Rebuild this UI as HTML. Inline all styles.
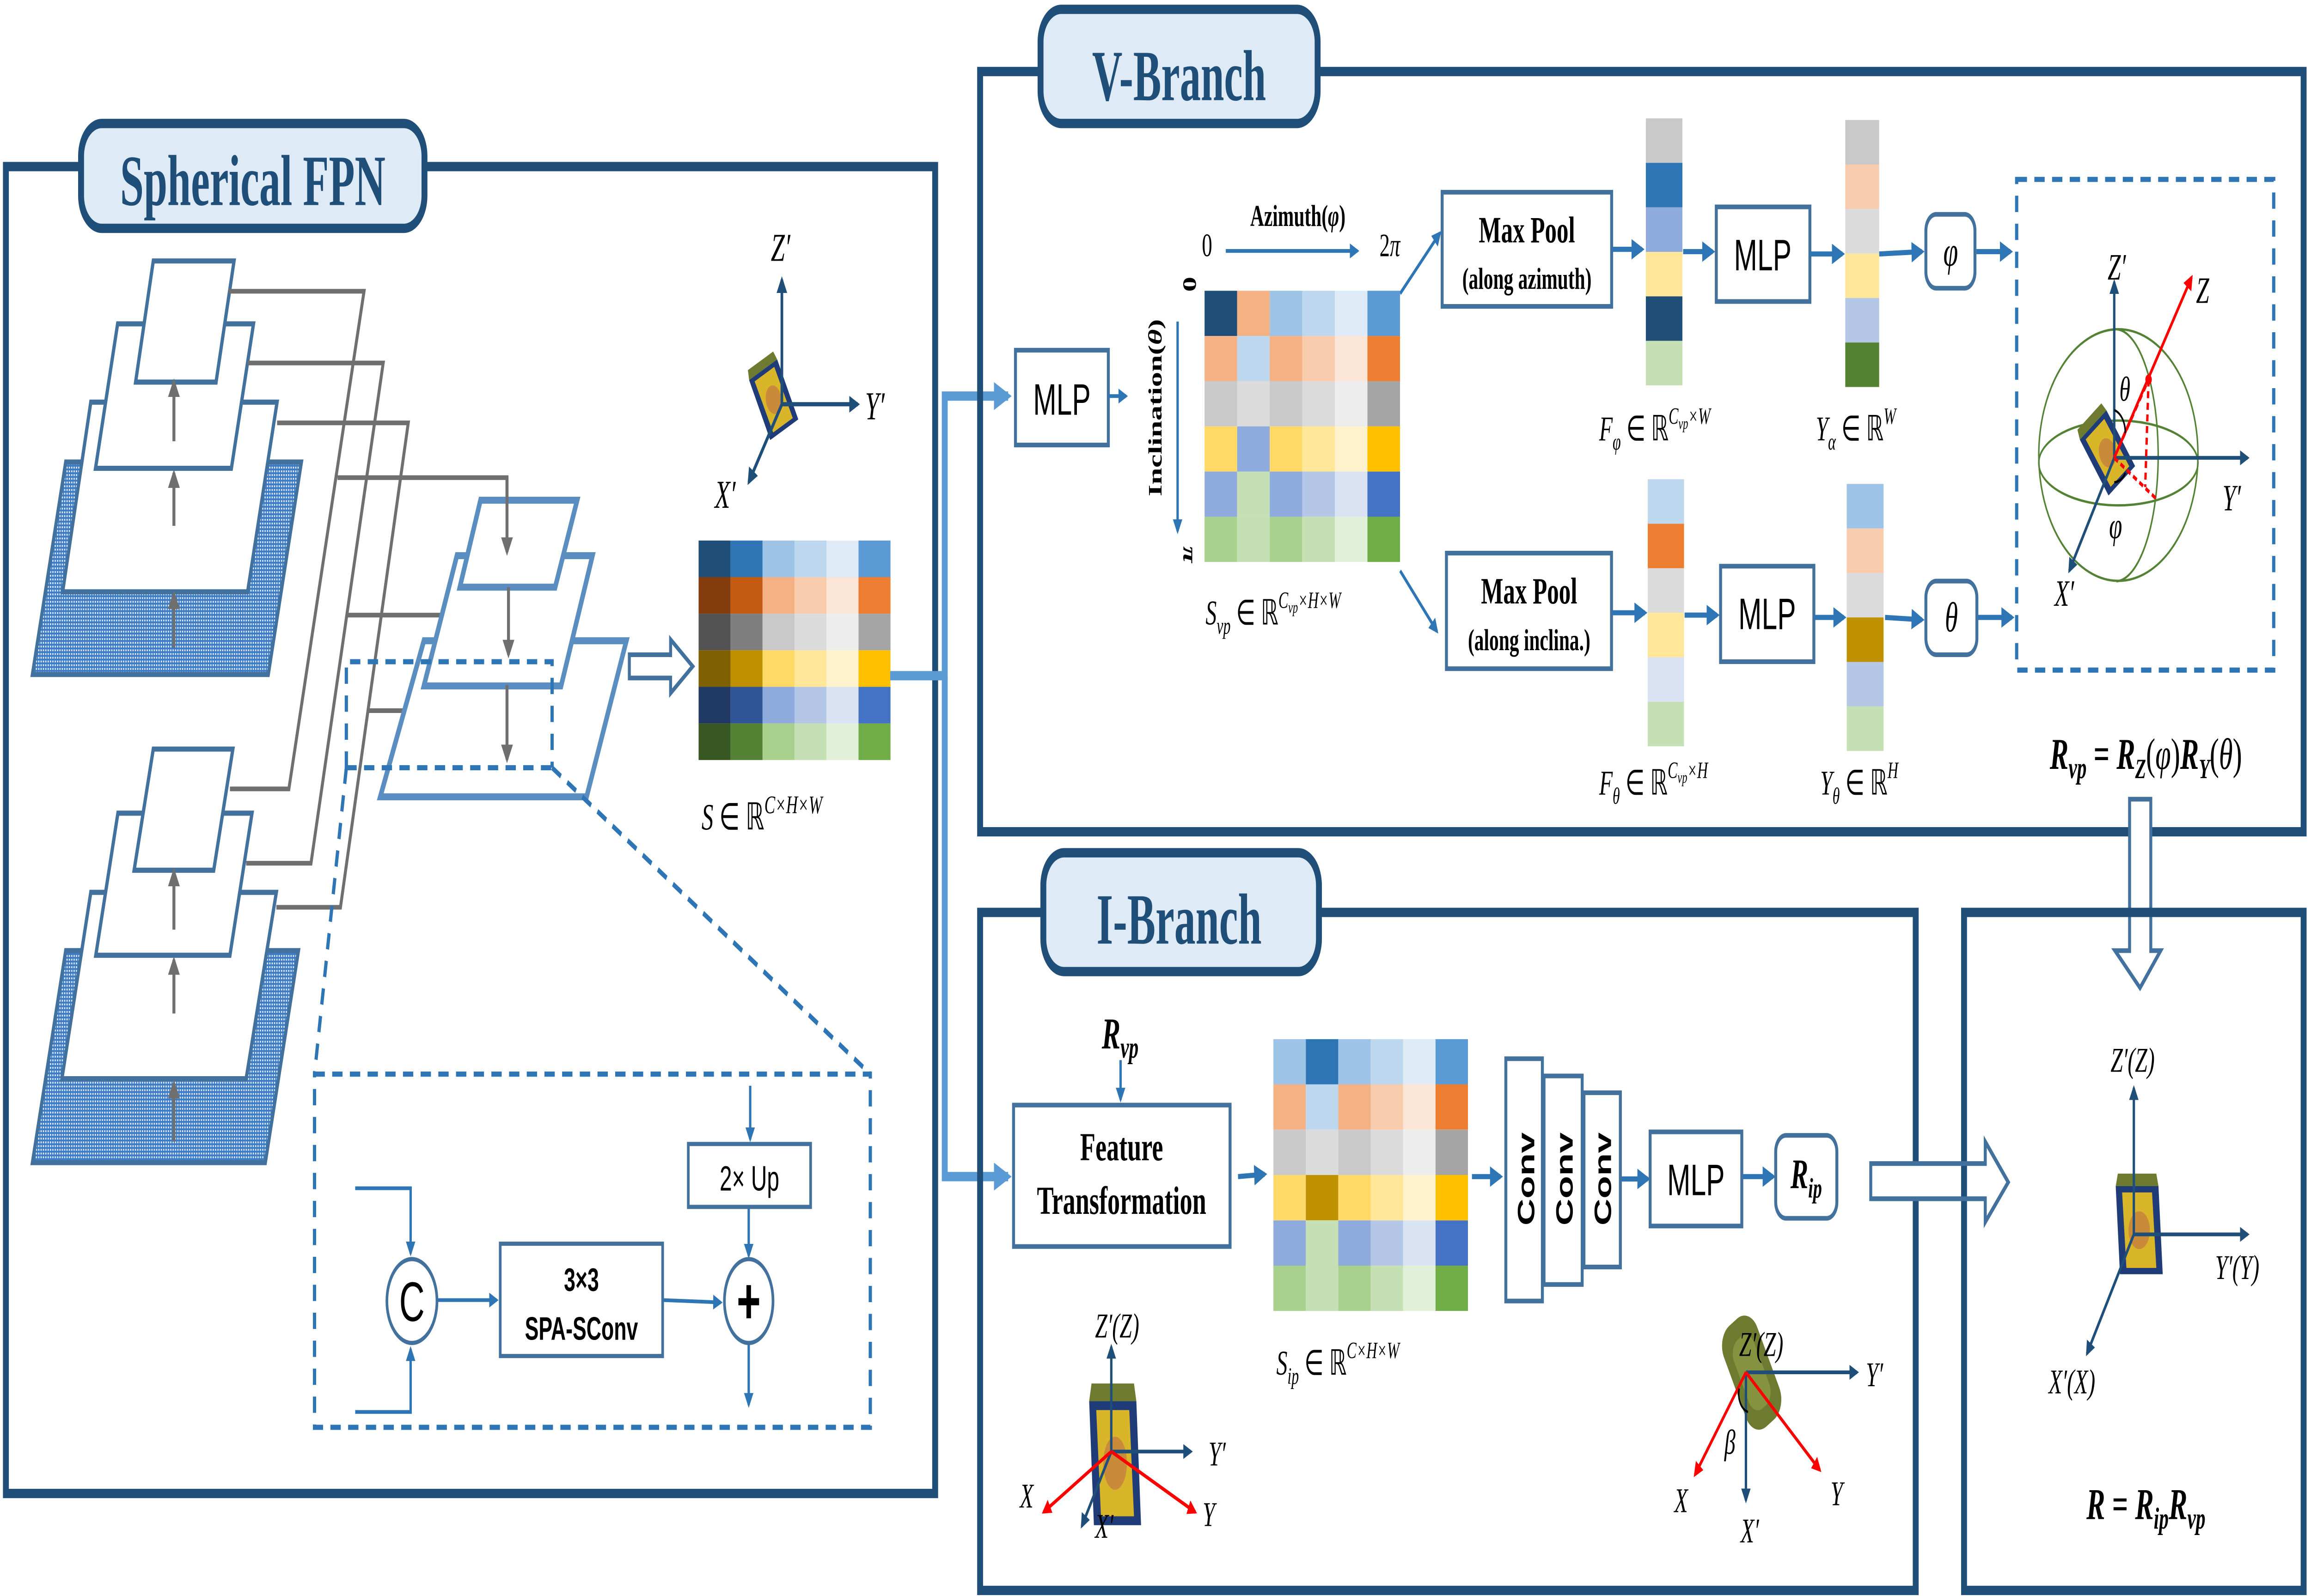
<!DOCTYPE html>
<html><head><meta charset="utf-8"><style>
html,body{margin:0;padding:0;background:#fff;overflow:hidden;width:100%;height:100%;}
svg{display:block;width:100vw;height:100vh;}
text{font-family:"Liberation Serif",serif;}
.sans{font-family:"Liberation Sans",sans-serif;}
.it{font-style:italic;}
</style></head><body>
<svg xmlns="http://www.w3.org/2000/svg" viewBox="0 0 1568 685" preserveAspectRatio="none">
<defs>
<pattern id="hatch" width="1.6" height="1.6" patternUnits="userSpaceOnUse">
<rect width="1.6" height="1.6" fill="#3d7cc4"/><rect x="0.3" y="0.3" width="0.8" height="0.8" fill="#e8f0fa"/>
</pattern>
<marker id="ag" viewBox="0 0 10 10" refX="8" refY="5" markerWidth="4" markerHeight="4" orient="auto"><path d="M0,0 L10,5 L0,10 z" fill="#6f6f6f"/></marker>
<marker id="ab" viewBox="0 0 10 10" refX="8" refY="5" markerWidth="4" markerHeight="4" orient="auto"><path d="M0,0 L10,5 L0,10 z" fill="#2e75b6"/></marker>
<marker id="ad" viewBox="0 0 10 10" refX="8" refY="5" markerWidth="4" markerHeight="4" orient="auto"><path d="M0,0 L10,5 L0,10 z" fill="#1f4e79"/></marker>
<marker id="ar" viewBox="0 0 10 10" refX="8" refY="5" markerWidth="4" markerHeight="4" orient="auto"><path d="M0,0 L10,5 L0,10 z" fill="#ff0000"/></marker>
<marker id="al" viewBox="0 0 10 10" refX="8" refY="5" markerWidth="3" markerHeight="3" orient="auto"><path d="M0,0 L10,5 L0,10 z" fill="#5b9bd5"/></marker>
<g id="can">
<path d="M-10,-14 L10,-14 L12,14 L-8,14 z" fill="#1f3c78"/>
<path d="M-7,-12 L7,-12 L9,12 L-5,12 z" fill="#d9b52a"/>
<ellipse cx="1" cy="0" rx="5" ry="6" fill="#c98a3a"/>
<path d="M-10,-14 L10,-14 L9,-18 L-9,-18 z" fill="#6d7a2f"/>
</g>
</defs>

<rect x="4" y="71.5" width="630.5" height="569.5" fill="none" stroke="#1f4e79" stroke-width="4"/>
<rect x="55" y="53" width="233" height="45" rx="14" fill="#deeaf6" stroke="#1f4e79" stroke-width="4"/>
<text x="171.5" y="88" text-anchor="middle" font-weight="bold" font-size="31" fill="#1f4e79" textLength="180" lengthAdjust="spacingAndGlyphs">Spherical FPN</text>

<g stroke="#41719c" stroke-width="2.2">
<polygon points="44.6,198.3 204.5,198.3 182,289.5 22,289.5" fill="url(#hatch)"/>
<polygon points="61.6,172.6 188,172.6 168,254 42.5,254" fill="#fff"/>
<polygon points="79.8,139 172,139 157,201 64.8,201" fill="#fff"/>
<polygon points="104,112 158.8,112 146.6,164 92,164" fill="#fff"/>
</g>
<g stroke="#41719c" stroke-width="2.2">
<polygon points="44.6,408 202.5,408 180,499 22,499" fill="url(#hatch)"/>
<polygon points="61.6,383 187.5,383 167,463 42,463" fill="#fff"/>
<polygon points="80,349 171,349 156,410 65,410" fill="#fff"/>
<polygon points="104,321.5 158,321.5 145,373.5 91,373.5" fill="#fff"/>
</g>
<g stroke="#6f6f6f" stroke-width="2" fill="none">
<line x1="118" y1="278" x2="118" y2="255" marker-end="url(#ag)"/>
<line x1="118" y1="225.7" x2="118" y2="203" marker-end="url(#ag)"/>
<line x1="118" y1="189.4" x2="118" y2="164" marker-end="url(#ag)"/>
<line x1="118" y1="490" x2="118" y2="465" marker-end="url(#ag)"/>
<line x1="118" y1="435" x2="118" y2="412" marker-end="url(#ag)"/>
<line x1="118" y1="399" x2="118" y2="374" marker-end="url(#ag)"/>
<polyline points="155,125 247,125 196,338.6 156,338.6"/>
<polyline points="168,155.8 260,155.8 211,370.5 167,370.5"/>
<polyline points="188,181.5 277,181.5 231,389.4 187.5,389.4"/>
<polyline points="229,205 344,205 344,237" marker-end="url(#ag)"/>
<polyline points="236,264 345,264 345,280" marker-end="url(#ag)"/>
<polyline points="250,305 344,305 344,325" marker-end="url(#ag)"/>
</g>
<g stroke="#5b8ec0" stroke-width="3" fill="none">
<polygon points="287.6,275 425,275 398,342 258,342" fill="#fff"/>
<polygon points="310,238.5 402,238.5 380.7,294.4 287.6,294.4" fill="#fff"/>
<polygon points="326,214.7 391.6,214.7 376.7,252 312,252" fill="#fff"/>
</g>
<g stroke="#6f6f6f" stroke-width="2" fill="none">
<line x1="344" y1="205" x2="344" y2="237" marker-end="url(#ag)"/>
<line x1="345" y1="252" x2="345" y2="281" marker-end="url(#ag)"/>
<line x1="344" y1="294" x2="344" y2="326" marker-end="url(#ag)"/>
</g>
<g stroke="#2e75b6" stroke-width="2.2" fill="none" stroke-dasharray="7,5">
<polyline points="235,329.5 235,284 374.6,284 374.6,329.5"/>
<line x1="235" y1="329.5" x2="374.6" y2="329.5"/>
<line x1="235" y1="329.5" x2="213.4" y2="461"/>
<line x1="374.6" y1="329.5" x2="590.5" y2="461"/>
<rect x="213.4" y="461" width="377.1" height="151.6"/>
</g>
<g stroke="#2e75b6" stroke-width="1.6" fill="none">
<polyline points="241,510 278.6,510 278.6,538" marker-end="url(#ab)"/>
<polyline points="241,606 278.6,606 278.6,579" marker-end="url(#ab)"/>
<line x1="297" y1="558" x2="337" y2="558" marker-end="url(#ab)"/>
<line x1="450" y1="558" x2="489" y2="559" marker-end="url(#ab)"/>
<line x1="509" y1="466" x2="509" y2="489" marker-end="url(#ab)"/>
<line x1="508" y1="518" x2="508" y2="539" marker-end="url(#ab)"/>
<line x1="508" y1="577" x2="508" y2="603" marker-end="url(#ab)"/>
</g>
<g stroke="#41719c" stroke-width="1.8" fill="#fff">
<rect x="467" y="491" width="83" height="27"/>
<rect x="339.4" y="533.8" width="110.2" height="48.2"/>
<ellipse cx="279.5" cy="558.4" rx="17" ry="18"/>
<ellipse cx="508" cy="558.4" rx="16.5" ry="18"/>
</g>
<text class="sans" x="508.5" y="511" text-anchor="middle" font-size="15">2× Up</text>
<text class="sans" x="394.5" y="554" text-anchor="middle" font-size="14" font-weight="bold">3×3</text>
<text class="sans" x="394.5" y="575" text-anchor="middle" font-size="14" font-weight="bold">SPA-SConv</text>
<text class="sans" x="279.5" y="567" text-anchor="middle" font-size="24">C</text>
<text class="sans" x="508" y="568" text-anchor="middle" font-size="28" font-weight="bold">+</text>

<use href="#can" transform="translate(524,172) rotate(-25) scale(1.05)"/>
<g stroke="#1f4e79" stroke-width="1.8" fill="none">
<line x1="530.5" y1="173.5" x2="530.5" y2="120" marker-end="url(#ad)"/>
<line x1="530.5" y1="173.5" x2="582" y2="173.5" marker-end="url(#ad)"/>
<line x1="530.5" y1="173.5" x2="508" y2="207" marker-end="url(#ad)"/>
</g>
<text class="it" x="523" y="112" font-size="17">Z′</text>
<text class="it" x="587" y="180" font-size="17">Y′</text>
<text class="it" x="485" y="218" font-size="17">X′</text>

<path d="M427,281 L455,281 L455,274.5 L470,286 L455,297.5 L455,291 L427,291 z" fill="#fff" stroke="#41719c" stroke-width="2"/>

<g>
<rect x="474" y="232" width="21.7" height="15.7" fill="#1f4e79"/><rect x="495.7" y="232" width="21.7" height="15.7" fill="#2e75b6"/><rect x="517.4" y="232" width="21.7" height="15.7" fill="#9dc3e6"/><rect x="539.1" y="232" width="21.7" height="15.7" fill="#bdd7ee"/><rect x="560.8" y="232" width="21.7" height="15.7" fill="#deebf7"/><rect x="582.5" y="232" width="21.7" height="15.7" fill="#5b9bd5"/>
<rect x="474" y="247.7" width="21.7" height="15.7" fill="#843c0c"/><rect x="495.7" y="247.7" width="21.7" height="15.7" fill="#c55a11"/><rect x="517.4" y="247.7" width="21.7" height="15.7" fill="#f4b183"/><rect x="539.1" y="247.7" width="21.7" height="15.7" fill="#f8cbad"/><rect x="560.8" y="247.7" width="21.7" height="15.7" fill="#fbe5d6"/><rect x="582.5" y="247.7" width="21.7" height="15.7" fill="#ed7d31"/>
<rect x="474" y="263.4" width="21.7" height="15.7" fill="#525252"/><rect x="495.7" y="263.4" width="21.7" height="15.7" fill="#7f7f7f"/><rect x="517.4" y="263.4" width="21.7" height="15.7" fill="#c9c9c9"/><rect x="539.1" y="263.4" width="21.7" height="15.7" fill="#dbdbdb"/><rect x="560.8" y="263.4" width="21.7" height="15.7" fill="#ededed"/><rect x="582.5" y="263.4" width="21.7" height="15.7" fill="#a5a5a5"/>
<rect x="474" y="279.1" width="21.7" height="15.7" fill="#7f6000"/><rect x="495.7" y="279.1" width="21.7" height="15.7" fill="#bf9000"/><rect x="517.4" y="279.1" width="21.7" height="15.7" fill="#ffd966"/><rect x="539.1" y="279.1" width="21.7" height="15.7" fill="#ffe699"/><rect x="560.8" y="279.1" width="21.7" height="15.7" fill="#fff2cc"/><rect x="582.5" y="279.1" width="21.7" height="15.7" fill="#ffc000"/>
<rect x="474" y="294.8" width="21.7" height="15.7" fill="#203864"/><rect x="495.7" y="294.8" width="21.7" height="15.7" fill="#2f5597"/><rect x="517.4" y="294.8" width="21.7" height="15.7" fill="#8faadc"/><rect x="539.1" y="294.8" width="21.7" height="15.7" fill="#b4c7e7"/><rect x="560.8" y="294.8" width="21.7" height="15.7" fill="#dae3f3"/><rect x="582.5" y="294.8" width="21.7" height="15.7" fill="#4472c4"/>
<rect x="474" y="310.5" width="21.7" height="15.7" fill="#385723"/><rect x="495.7" y="310.5" width="21.7" height="15.7" fill="#548235"/><rect x="517.4" y="310.5" width="21.7" height="15.7" fill="#a9d18e"/><rect x="539.1" y="310.5" width="21.7" height="15.7" fill="#c5e0b4"/><rect x="560.8" y="310.5" width="21.7" height="15.7" fill="#e2f0d9"/><rect x="582.5" y="310.5" width="21.7" height="15.7" fill="#70ad47"/>
</g>
<text x="476" y="356" font-size="16"><tspan class="it">S</tspan> ∈ ℝ<tspan font-size="11" dy="-7" class="it">C×H×W</tspan></text>

<g stroke="#5b9bd5" stroke-width="4" fill="none">
<polyline points="604,290 641,290 641,170 684,170" marker-end="url(#al)"/>
<polyline points="641,290 641,505 684,505" marker-end="url(#al)"/>
</g>

<rect x="665" y="30.7" width="898" height="326.3" fill="none" stroke="#1f4e79" stroke-width="4"/>
<rect x="706" y="4" width="188" height="49" rx="14" fill="#deeaf6" stroke="#1f4e79" stroke-width="4"/>
<text x="800" y="43" text-anchor="middle" font-weight="bold" font-size="31" fill="#1f4e79" textLength="118" lengthAdjust="spacingAndGlyphs">V-Branch</text>

<g stroke="#41719c" stroke-width="2" fill="#fff">
<rect x="689" y="150.3" width="63" height="40.7"/>
<rect x="978.5" y="82.5" width="115" height="49"/>
<rect x="981.4" y="237.4" width="112" height="49.6"/>
<rect x="1164.5" y="88.8" width="63.5" height="40.6"/>
<rect x="1167.4" y="243" width="63.3" height="41"/>
<rect x="1306.7" y="92" width="33.3" height="31.7" rx="7"/>
<rect x="1306.7" y="249.4" width="34.6" height="31.6" rx="7"/>
</g>
<text class="sans" x="720.5" y="178" text-anchor="middle" font-size="19">MLP</text>
<text class="sans" x="1196" y="116" text-anchor="middle" font-size="19">MLP</text>
<text class="sans" x="1199" y="270" text-anchor="middle" font-size="19">MLP</text>
<text x="1036" y="104" text-anchor="middle" font-size="16" font-weight="bold">Max Pool</text>
<text x="1036" y="124" text-anchor="middle" font-size="13" font-weight="bold">(along azimuth)</text>
<text x="1037.5" y="259" text-anchor="middle" font-size="16" font-weight="bold">Max Pool</text>
<text x="1037.5" y="279" text-anchor="middle" font-size="13" font-weight="bold">(along inclina.)</text>
<text class="it" x="1323.5" y="114" text-anchor="middle" font-size="18">φ</text>
<text class="it" x="1324" y="271" text-anchor="middle" font-size="18">θ</text>

<text x="880.6" y="97" text-anchor="middle" font-size="13" font-weight="bold">Azimuth(<tspan class="it">φ</tspan>)</text>
<text x="819" y="110" text-anchor="middle" font-size="14">0</text>
<text x="943" y="110" text-anchor="middle" font-size="14">2<tspan class="it">π</tspan></text>
<text transform="translate(788,175) rotate(-90)" text-anchor="middle" font-size="13" font-weight="bold">Inclination(<tspan class="it">θ</tspan>)</text>
<text transform="translate(803,122) rotate(90)" text-anchor="middle" font-size="13" font-weight="bold">0</text>
<text transform="translate(803,238) rotate(90)" text-anchor="middle" font-size="13" font-weight="bold" class="it">π</text>

<g stroke="#2e75b6" stroke-width="1.6" fill="none">
<line x1="752" y1="170" x2="764" y2="170" marker-end="url(#ab)"/>
<line x1="831.7" y1="107.7" x2="921" y2="107.7" marker-end="url(#ab)"/>
<line x1="799" y1="138" x2="799" y2="228" marker-end="url(#ab)"/>
<line x1="950" y1="126" x2="977" y2="100" marker-end="url(#ab)"/>
<line x1="950" y1="245" x2="975" y2="271" marker-end="url(#ab)"/>
</g>
<g stroke="#2e75b6" stroke-width="2.2" fill="none">
<line x1="1094" y1="107" x2="1114" y2="107" marker-end="url(#ab)"/>
<line x1="1142" y1="108" x2="1162" y2="108" marker-end="url(#ab)"/>
<line x1="1228" y1="109" x2="1250" y2="109" marker-end="url(#ab)"/>
<line x1="1275" y1="109" x2="1304" y2="108" marker-end="url(#ab)"/>
<line x1="1341" y1="108" x2="1364" y2="108" marker-end="url(#ab)"/>
<line x1="1094" y1="263" x2="1116" y2="263" marker-end="url(#ab)"/>
<line x1="1143" y1="264" x2="1165" y2="264" marker-end="url(#ab)"/>
<line x1="1231" y1="265" x2="1251" y2="265" marker-end="url(#ab)"/>
<line x1="1279" y1="265" x2="1304" y2="266" marker-end="url(#ab)"/>
<line x1="1342" y1="265" x2="1365" y2="265" marker-end="url(#ab)"/>
</g>

<g>
<rect x="817.3" y="124.8" width="22.1" height="19.4" fill="#1f4e79"/><rect x="839.4" y="124.8" width="22.1" height="19.4" fill="#f4b183"/><rect x="861.5" y="124.8" width="22.1" height="19.4" fill="#9dc3e6"/><rect x="883.6" y="124.8" width="22.1" height="19.4" fill="#bdd7ee"/><rect x="905.7" y="124.8" width="22.1" height="19.4" fill="#deebf7"/><rect x="927.8" y="124.8" width="22.1" height="19.4" fill="#5b9bd5"/>
<rect x="817.3" y="144.2" width="22.1" height="19.4" fill="#f4b183"/><rect x="839.4" y="144.2" width="22.1" height="19.4" fill="#bdd7ee"/><rect x="861.5" y="144.2" width="22.1" height="19.4" fill="#f4b183"/><rect x="883.6" y="144.2" width="22.1" height="19.4" fill="#f8cbad"/><rect x="905.7" y="144.2" width="22.1" height="19.4" fill="#fbe5d6"/><rect x="927.8" y="144.2" width="22.1" height="19.4" fill="#ed7d31"/>
<rect x="817.3" y="163.6" width="22.1" height="19.4" fill="#c9c9c9"/><rect x="839.4" y="163.6" width="22.1" height="19.4" fill="#dbdbdb"/><rect x="861.5" y="163.6" width="22.1" height="19.4" fill="#c9c9c9"/><rect x="883.6" y="163.6" width="22.1" height="19.4" fill="#dbdbdb"/><rect x="905.7" y="163.6" width="22.1" height="19.4" fill="#ededed"/><rect x="927.8" y="163.6" width="22.1" height="19.4" fill="#a5a5a5"/>
<rect x="817.3" y="183" width="22.1" height="19.4" fill="#ffd966"/><rect x="839.4" y="183" width="22.1" height="19.4" fill="#8faadc"/><rect x="861.5" y="183" width="22.1" height="19.4" fill="#ffd966"/><rect x="883.6" y="183" width="22.1" height="19.4" fill="#ffe699"/><rect x="905.7" y="183" width="22.1" height="19.4" fill="#fff2cc"/><rect x="927.8" y="183" width="22.1" height="19.4" fill="#ffc000"/>
<rect x="817.3" y="202.4" width="22.1" height="19.4" fill="#8faadc"/><rect x="839.4" y="202.4" width="22.1" height="19.4" fill="#c5e0b4"/><rect x="861.5" y="202.4" width="22.1" height="19.4" fill="#8faadc"/><rect x="883.6" y="202.4" width="22.1" height="19.4" fill="#b4c7e7"/><rect x="905.7" y="202.4" width="22.1" height="19.4" fill="#dae3f3"/><rect x="927.8" y="202.4" width="22.1" height="19.4" fill="#4472c4"/>
<rect x="817.3" y="221.8" width="22.1" height="19.4" fill="#a9d18e"/><rect x="839.4" y="221.8" width="22.1" height="19.4" fill="#c5e0b4"/><rect x="861.5" y="221.8" width="22.1" height="19.4" fill="#a9d18e"/><rect x="883.6" y="221.8" width="22.1" height="19.4" fill="#c5e0b4"/><rect x="905.7" y="221.8" width="22.1" height="19.4" fill="#e2f0d9"/><rect x="927.8" y="221.8" width="22.1" height="19.4" fill="#70ad47"/>
</g>
<text x="818" y="268" font-size="15"><tspan class="it">S</tspan><tspan class="it" font-size="10" dy="4">vp</tspan><tspan dy="-4"> ∈ ℝ</tspan><tspan font-size="10" dy="-7" class="it">C</tspan><tspan font-size="7" class="it" dy="2">vp</tspan><tspan font-size="10" class="it" dy="-2">×H×W</tspan></text>

<g>
<rect x="1116.7" y="50.8" width="24.8" height="19.1" fill="#c9c9c9"/><rect x="1116.7" y="69.9" width="24.8" height="19.1" fill="#2e75b6"/><rect x="1116.7" y="89" width="24.8" height="19.1" fill="#8faadc"/><rect x="1116.7" y="108.1" width="24.8" height="19.1" fill="#ffe699"/><rect x="1116.7" y="127.2" width="24.8" height="19.1" fill="#1f4e79"/><rect x="1116.7" y="146.3" width="24.8" height="19.1" fill="#c5e0b4"/>
<rect x="1252" y="51.5" width="23" height="19.1" fill="#c9c9c9"/><rect x="1252" y="70.6" width="23" height="19.1" fill="#f8cbad"/><rect x="1252" y="89.7" width="23" height="19.1" fill="#dbdbdb"/><rect x="1252" y="108.8" width="23" height="19.1" fill="#ffe699"/><rect x="1252" y="127.9" width="23" height="19.1" fill="#b4c7e7"/><rect x="1252" y="147" width="23" height="19.1" fill="#548235"/>
<rect x="1118" y="205.7" width="24.6" height="19.1" fill="#bdd7ee"/><rect x="1118" y="224.8" width="24.6" height="19.1" fill="#ed7d31"/><rect x="1118" y="243.9" width="24.6" height="19.1" fill="#dbdbdb"/><rect x="1118" y="263" width="24.6" height="19.1" fill="#ffe699"/><rect x="1118" y="282.1" width="24.6" height="19.1" fill="#dae3f3"/><rect x="1118" y="301.2" width="24.6" height="19.1" fill="#c5e0b4"/>
<rect x="1253" y="207.7" width="25" height="19.1" fill="#9dc3e6"/><rect x="1253" y="226.8" width="25" height="19.1" fill="#f8cbad"/><rect x="1253" y="245.9" width="25" height="19.1" fill="#dbdbdb"/><rect x="1253" y="265" width="25" height="19.1" fill="#bf9000"/><rect x="1253" y="284.1" width="25" height="19.1" fill="#b4c7e7"/><rect x="1253" y="303.2" width="25" height="19.1" fill="#c5e0b4"/>
</g>
<text x="1085" y="189" font-size="15"><tspan class="it">F</tspan><tspan class="it" font-size="10" dy="4">φ</tspan><tspan dy="-4"> ∈ ℝ</tspan><tspan font-size="10" dy="-7" class="it">C</tspan><tspan font-size="7" class="it" dy="2">vp</tspan><tspan font-size="10" class="it" dy="-2">×W</tspan></text>
<text x="1232" y="189" font-size="15"><tspan class="it">Y</tspan><tspan class="it" font-size="10" dy="4">α</tspan><tspan dy="-4"> ∈ ℝ</tspan><tspan font-size="10" dy="-7" class="it">W</tspan></text>
<text x="1085" y="341" font-size="15"><tspan class="it">F</tspan><tspan class="it" font-size="10" dy="4">θ</tspan><tspan dy="-4"> ∈ ℝ</tspan><tspan font-size="10" dy="-7" class="it">C</tspan><tspan font-size="7" class="it" dy="2">vp</tspan><tspan font-size="10" class="it" dy="-2">×H</tspan></text>
<text x="1235" y="341" font-size="15"><tspan class="it">Y</tspan><tspan class="it" font-size="10" dy="4">θ</tspan><tspan dy="-4"> ∈ ℝ</tspan><tspan font-size="10" dy="-7" class="it">H</tspan></text>

<rect x="1368.3" y="77" width="174.4" height="210.6" fill="none" stroke="#2e75b6" stroke-width="2.2" stroke-dasharray="7,5"/>
<g fill="none" stroke="#548235" stroke-width="1">
<circle cx="1437.3" cy="195.3" r="54"/>
<ellipse cx="1437.3" cy="198.7" rx="54" ry="18.2"/>
<path d="M1434.5,141.3 A29,54 0 0 1 1436,249.5"/>
</g>
<use href="#can" transform="translate(1429,195) rotate(-35) scale(1.1)"/>
<g stroke="#1f4e79" stroke-width="1.6" fill="none">
<line x1="1434.5" y1="196.5" x2="1434.5" y2="121" marker-end="url(#ad)"/>
<line x1="1434.5" y1="196.5" x2="1525" y2="196.5" marker-end="url(#ad)"/>
<line x1="1434.5" y1="196.5" x2="1404" y2="245" marker-end="url(#ad)"/>
</g>
<g stroke="#ff0000" stroke-width="1.6" fill="none">
<line x1="1434.5" y1="196.5" x2="1487" y2="119" marker-end="url(#ar)"/>
<g stroke-dasharray="3,2"><line x1="1434.5" y1="196.5" x2="1457.8" y2="162.9"/><line x1="1457.8" y1="162.9" x2="1455.5" y2="209"/><line x1="1434.5" y1="196.5" x2="1464" y2="214.7"/></g>
</g>
<circle cx="1457.8" cy="162.9" r="2.2" fill="#ff0000"/>
<path d="M1434.5,176 A10,10 0 0 1 1442,186" fill="none" stroke="#000" stroke-width="1"/>
<path d="M1434.5,207 A9,7 0 0 0 1442,203" fill="none" stroke="#000" stroke-width="1"/>
<text class="it" x="1430" y="120" font-size="16">Z′</text>
<text class="it" x="1490" y="130" font-size="16">Z</text>
<text class="it" x="1508" y="219" font-size="16">Y′</text>
<text class="it" x="1394" y="260" font-size="16">X′</text>
<text class="it" x="1438" y="172" font-size="15">θ</text>
<text class="it" x="1431" y="231" font-size="16">φ</text>
<text x="1456" y="330" text-anchor="middle" font-size="19" font-weight="bold"><tspan class="it">R</tspan><tspan class="it" font-size="13" dy="4">vp</tspan><tspan dy="-4"> = </tspan><tspan class="it">R</tspan><tspan class="it" font-size="12" dy="4">Z</tspan><tspan dy="-4" font-weight="normal">(</tspan><tspan class="it" font-weight="normal">φ</tspan><tspan font-weight="normal">)</tspan><tspan class="it">R</tspan><tspan class="it" font-size="12" dy="4">Y</tspan><tspan dy="-4" font-weight="normal">(</tspan><tspan class="it" font-weight="normal">θ</tspan><tspan font-weight="normal">)</tspan></text>

<path d="M1444.9,343 L1459.3,343 L1459.3,408 L1466,408 L1452,424 L1435,408 L1444.9,408 z" fill="#fff" stroke="#41719c" stroke-width="2"/>

<rect x="665" y="391.6" width="634.8" height="291" fill="none" stroke="#1f4e79" stroke-width="4"/>
<rect x="707.9" y="366" width="187" height="51" rx="14" fill="#deeaf6" stroke="#1f4e79" stroke-width="4"/>
<text x="800" y="405" text-anchor="middle" font-weight="bold" font-size="31" fill="#1f4e79" textLength="112" lengthAdjust="spacingAndGlyphs">I-Branch</text>

<text x="760" y="450" text-anchor="middle" font-size="19" font-weight="bold"><tspan class="it">R</tspan><tspan class="it" font-size="13" dy="4">vp</tspan></text>
<g stroke="#2e75b6" stroke-width="1.6" fill="none">
<line x1="760.3" y1="455" x2="760.3" y2="472" marker-end="url(#ab)"/>
</g>
<g stroke="#2e75b6" stroke-width="2.2" fill="none">
<line x1="840" y1="505" x2="858" y2="504" marker-end="url(#ab)"/>
<line x1="998.7" y1="505" x2="1018" y2="505" marker-end="url(#ab)"/>
<line x1="1100" y1="506" x2="1118" y2="506" marker-end="url(#ab)"/>
<line x1="1182" y1="505" x2="1203" y2="505" marker-end="url(#ab)"/>
</g>
<g stroke="#41719c" stroke-width="2" fill="#fff">
<rect x="687.7" y="474.3" width="146.9" height="60.7"/>
<rect x="1021.7" y="454.4" width="24.8" height="104"/>
<rect x="1047.6" y="461.8" width="25.9" height="89.5"/>
<rect x="1074.7" y="469" width="24.7" height="74.8"/>
<rect x="1119.6" y="485.8" width="62.2" height="40.4"/>
<rect x="1204.8" y="487.3" width="41.5" height="35.6" rx="7"/>
</g>
<text x="761" y="498" text-anchor="middle" font-size="17" font-weight="bold">Feature</text>
<text x="761" y="521" text-anchor="middle" font-size="17" font-weight="bold">Transformation</text>
<text class="sans" transform="translate(1041,506) rotate(-90)" text-anchor="middle" font-size="16" font-weight="bold">Conv</text>
<text class="sans" transform="translate(1067,506) rotate(-90)" text-anchor="middle" font-size="16" font-weight="bold">Conv</text>
<text class="sans" transform="translate(1093,506) rotate(-90)" text-anchor="middle" font-size="16" font-weight="bold">Conv</text>
<text class="sans" x="1150.7" y="513" text-anchor="middle" font-size="19">MLP</text>
<text x="1225.5" y="510" text-anchor="middle" font-size="18" font-weight="bold"><tspan class="it">R</tspan><tspan class="it" font-size="12" dy="4">ip</tspan></text>

<g>
<rect x="864" y="446" width="22" height="19.45" fill="#9dc3e6"/><rect x="886" y="446" width="22" height="19.45" fill="#2e75b6"/><rect x="908" y="446" width="22" height="19.45" fill="#9dc3e6"/><rect x="930" y="446" width="22" height="19.45" fill="#bdd7ee"/><rect x="952" y="446" width="22" height="19.45" fill="#deebf7"/><rect x="974" y="446" width="22" height="19.45" fill="#5b9bd5"/>
<rect x="864" y="465.4" width="22" height="19.45" fill="#f4b183"/><rect x="886" y="465.4" width="22" height="19.45" fill="#bdd7ee"/><rect x="908" y="465.4" width="22" height="19.45" fill="#f4b183"/><rect x="930" y="465.4" width="22" height="19.45" fill="#f8cbad"/><rect x="952" y="465.4" width="22" height="19.45" fill="#fbe5d6"/><rect x="974" y="465.4" width="22" height="19.45" fill="#ed7d31"/>
<rect x="864" y="484.9" width="22" height="19.45" fill="#c9c9c9"/><rect x="886" y="484.9" width="22" height="19.45" fill="#dbdbdb"/><rect x="908" y="484.9" width="22" height="19.45" fill="#c9c9c9"/><rect x="930" y="484.9" width="22" height="19.45" fill="#dbdbdb"/><rect x="952" y="484.9" width="22" height="19.45" fill="#ededed"/><rect x="974" y="484.9" width="22" height="19.45" fill="#a5a5a5"/>
<rect x="864" y="504.3" width="22" height="19.45" fill="#ffd966"/><rect x="886" y="504.3" width="22" height="19.45" fill="#bf9000"/><rect x="908" y="504.3" width="22" height="19.45" fill="#ffd966"/><rect x="930" y="504.3" width="22" height="19.45" fill="#ffe699"/><rect x="952" y="504.3" width="22" height="19.45" fill="#fff2cc"/><rect x="974" y="504.3" width="22" height="19.45" fill="#ffc000"/>
<rect x="864" y="523.8" width="22" height="19.45" fill="#8faadc"/><rect x="886" y="523.8" width="22" height="19.45" fill="#c5e0b4"/><rect x="908" y="523.8" width="22" height="19.45" fill="#8faadc"/><rect x="930" y="523.8" width="22" height="19.45" fill="#b4c7e7"/><rect x="952" y="523.8" width="22" height="19.45" fill="#dae3f3"/><rect x="974" y="523.8" width="22" height="19.45" fill="#4472c4"/>
<rect x="864" y="543.2" width="22" height="19.45" fill="#a9d18e"/><rect x="886" y="543.2" width="22" height="19.45" fill="#c5e0b4"/><rect x="908" y="543.2" width="22" height="19.45" fill="#a9d18e"/><rect x="930" y="543.2" width="22" height="19.45" fill="#c5e0b4"/><rect x="952" y="543.2" width="22" height="19.45" fill="#e2f0d9"/><rect x="974" y="543.2" width="22" height="19.45" fill="#70ad47"/>
</g>
<text x="866" y="590" font-size="15"><tspan class="it">S</tspan><tspan class="it" font-size="10" dy="4">ip</tspan><tspan dy="-4"> ∈ ℝ</tspan><tspan font-size="10" dy="-7" class="it">C×H×W</tspan></text>

<use href="#can" transform="translate(755,628) scale(1.6,1.9)"/>
<g stroke="#1f4e79" stroke-width="1.6" fill="none">
<line x1="754" y1="623" x2="754" y2="578" marker-end="url(#ad)"/>
<line x1="754" y1="623" x2="808" y2="623" marker-end="url(#ad)"/>
<line x1="754" y1="623" x2="734" y2="655" marker-end="url(#ad)"/>
</g>
<g stroke="#ff0000" stroke-width="1.6" fill="none">
<line x1="754" y1="623" x2="708" y2="649" marker-end="url(#ar)"/>
<line x1="754" y1="623" x2="811" y2="649" marker-end="url(#ar)"/>
</g>
<text class="it" x="743" y="574" font-size="15">Z′(Z)</text>
<text class="it" x="820" y="629" font-size="15">Y′</text>
<text class="it" x="692" y="647" font-size="15">X</text>
<text class="it" x="816" y="655" font-size="15">Y</text>
<text class="it" x="743" y="660" font-size="15">X′</text>

<g transform="translate(1189,590) rotate(-30)"><rect x="-13" y="-26" width="26" height="50" rx="10" fill="#6d7a2f"/><rect x="-8" y="-18" width="16" height="34" rx="7" fill="#85923f"/></g>
<g stroke="#1f4e79" stroke-width="1.6" fill="none">
<line x1="1184.6" y1="589" x2="1260" y2="589" marker-end="url(#ad)"/>
<line x1="1184.6" y1="589" x2="1184.6" y2="644" marker-end="url(#ad)"/>
</g>
<g stroke="#ff0000" stroke-width="1.6" fill="none">
<line x1="1184.6" y1="589" x2="1150" y2="633" marker-end="url(#ar)"/>
<line x1="1184.6" y1="589" x2="1234.8" y2="631" marker-end="url(#ar)"/>
</g>
<path d="M1180,596 A8,8 0 0 0 1186,606" fill="none" stroke="#000" stroke-width="1"/>
<text class="it" x="1180" y="582" font-size="15">Z′(Z)</text>
<text class="it" x="1266" y="595" font-size="15">Y′</text>
<text class="it" x="1136" y="649" font-size="15">X</text>
<text class="it" x="1242" y="646" font-size="15">Y</text>
<text class="it" x="1181" y="662" font-size="15">X′</text>
<text class="it" x="1170" y="624" font-size="15">β</text>

<path d="M1269.3,499.4 L1347,499.4 L1347,490 L1362.6,507.4 L1347,524.5 L1347,514.5 L1269.3,514.5 z" fill="#fff" stroke="#41719c" stroke-width="2"/>

<rect x="1332.6" y="391.6" width="230.4" height="291" fill="none" stroke="#1f4e79" stroke-width="4"/>
<path d="M1269.3,499.4 L1347,499.4 L1347,490 L1362.6,507.4 L1347,524.5 L1347,514.5 L1269.3,514.5" fill="none" stroke="#41719c" stroke-width="2"/>
<use href="#can" transform="translate(1450,528) scale(1.45,1.35)"/>
<g stroke="#1f4e79" stroke-width="1.6" fill="none">
<line x1="1447.8" y1="529.8" x2="1447.8" y2="467" marker-end="url(#ad)"/>
<line x1="1447.8" y1="529.8" x2="1525" y2="529.8" marker-end="url(#ad)"/>
<line x1="1447.8" y1="529.8" x2="1416" y2="581" marker-end="url(#ad)"/>
</g>
<text class="it" x="1432" y="460" font-size="15">Z′(Z)</text>
<text class="it" x="1503" y="549" font-size="15">Y′(Y)</text>
<text class="it" x="1390" y="598" font-size="15">X′(X)</text>
<text x="1456" y="652" text-anchor="middle" font-size="19" font-weight="bold"><tspan class="it">R</tspan> = <tspan class="it">R</tspan><tspan class="it" font-size="13" dy="4">ip</tspan><tspan class="it" dy="-4">R</tspan><tspan class="it" font-size="13" dy="4">vp</tspan></text>
</svg>
</body></html>
